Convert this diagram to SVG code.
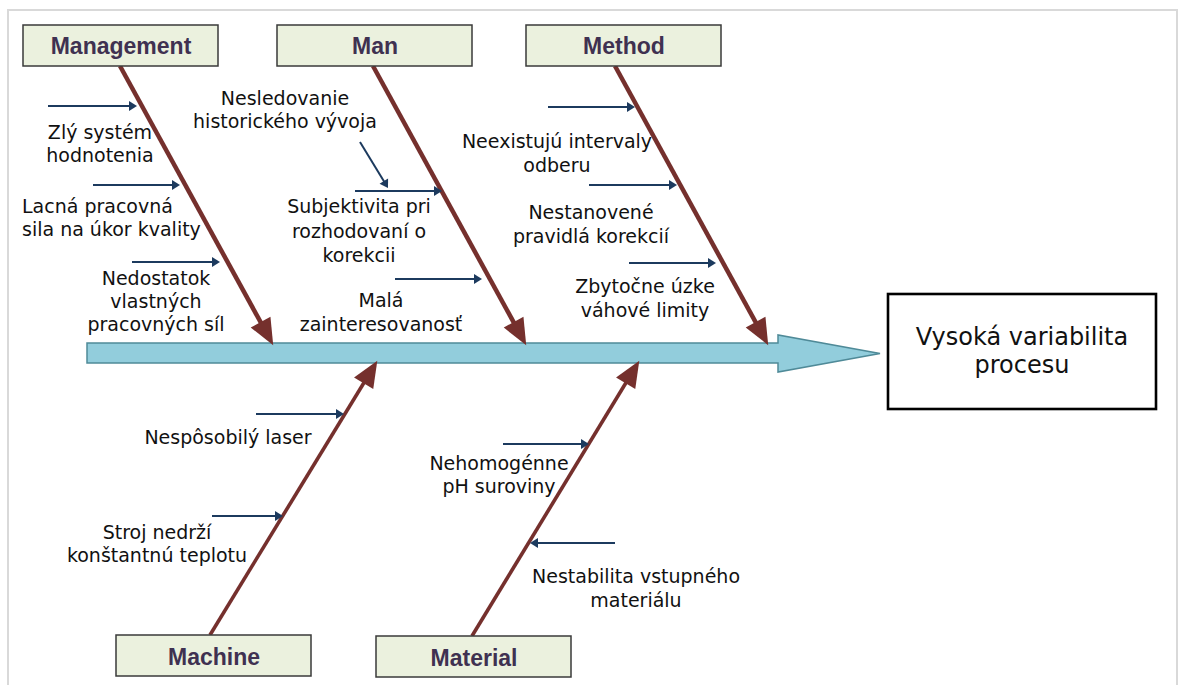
<svg xmlns="http://www.w3.org/2000/svg" width="1179" height="685" viewBox="0 0 1179 685">
  <defs>
    <style>
      .frame { fill: none; stroke: #d9d9d9; stroke-width: 2; }
      .cat rect { fill: #ebf1de; stroke: #3a3a3a; stroke-width: 1.5; }
      .cat text { font-family: "Liberation Sans", Arial, sans-serif; font-weight: bold; font-size: 23px; fill: #3f3151; text-anchor: middle; }
      .bone { stroke: #75302d; fill: none; marker-end: url(#bigHead); }
      .up { stroke-width: 4.5; }
      .down { stroke-width: 3.6; }
      .cause { stroke: #1c3a5e; stroke-width: 2; fill: none; marker-end: url(#smallHead); }
      .lbl { font-family: "DejaVu Sans", Verdana, sans-serif; font-size: 19px; fill: #111; text-anchor: middle; }
      .lbl-left { text-anchor: start; }
      .effect rect { fill: #fff; stroke: #000; stroke-width: 2.6; }
      .effect text { font-family: "DejaVu Sans", Verdana, sans-serif; font-size: 24px; fill: #111; text-anchor: middle; }
    </style>
    <marker id="bigHead" markerUnits="userSpaceOnUse" markerWidth="30" markerHeight="30" viewBox="-12 -12 24 24" refX="0" refY="0" orient="auto" overflow="visible">
      <path d="M-11,-9 L10,0 L-11,9 Z" fill="#75302d"/>
    </marker>
    <marker id="smallHead" markerUnits="userSpaceOnUse" markerWidth="12" markerHeight="12" viewBox="-6 -6 12 12" refX="0" refY="0" orient="auto" overflow="visible">
      <path d="M-4,-5 L4,0 L-4,5 Z" fill="#1c3a5e"/>
    </marker>
  </defs>

  <rect width="1179" height="685" fill="#ffffff"/>
  <rect class="frame" x="8" y="10" width="1169" height="700"/>

  <!-- main spine arrow -->
  <g id="spine">
    <polygon points="87,343 778,343 778,335 880,353.5 778,372 778,363 87,363" fill="#92cddc" stroke="#4f8a98" stroke-width="1.5"/>
  </g>

  <!-- bones and cause arrows -->
  <g id="connectors">
    <line class="bone up" x1="120" y1="66" x2="267.2" y2="334.2"/>
    <line class="bone up" x1="373" y1="66" x2="520.2" y2="334.2"/>
    <line class="bone up" x1="615" y1="66" x2="762.2" y2="334.2"/>
    <line class="bone down" x1="210" y1="635" x2="370.8" y2="371.5"/>
    <line class="bone down" x1="472" y1="636" x2="632.8" y2="371.5"/>

    <line class="cause" x1="48" y1="106" x2="133" y2="106"/>
    <line class="cause" x1="93" y1="185" x2="176" y2="185"/>
    <line class="cause" x1="132" y1="262" x2="216" y2="262"/>

    <line class="cause" x1="360" y1="142" x2="385.9" y2="184.6"/>
    <line class="cause" x1="355" y1="191" x2="438" y2="191"/>
    <line class="cause" x1="395" y1="279" x2="478" y2="279"/>

    <line class="cause" x1="548" y1="107" x2="631" y2="107"/>
    <line class="cause" x1="589" y1="185" x2="673" y2="185"/>
    <line class="cause" x1="629" y1="263" x2="712" y2="263"/>

    <line class="cause" x1="256" y1="414" x2="340" y2="414"/>
    <line class="cause" x1="212" y1="516" x2="279" y2="516"/>

    <line class="cause" x1="503" y1="444" x2="585" y2="444"/>
    <line class="cause" x1="615" y1="543" x2="534" y2="543"/>
  </g>

  <!-- category headers -->
  <g id="management" class="cat">
    <rect x="23" y="25" width="195" height="41"/>
    <text x="121" y="54">Management</text>
  </g>
  <g id="man" class="cat">
    <rect x="277" y="25" width="195" height="41"/>
    <text x="375" y="54">Man</text>
  </g>
  <g id="method" class="cat">
    <rect x="526" y="25" width="195" height="41"/>
    <text x="624" y="54">Method</text>
  </g>
  <g id="machine" class="cat">
    <rect x="116" y="635" width="195" height="41"/>
    <text x="214" y="665">Machine</text>
  </g>
  <g id="material" class="cat">
    <rect x="376" y="636" width="195" height="41"/>
    <text x="474" y="666">Material</text>
  </g>

  <!-- effect -->
  <g id="effect" class="effect">
    <rect x="888" y="294" width="268" height="115"/>
    <text x="1022" y="345">Vysoká variabilita</text>
    <text x="1022" y="373">procesu</text>
  </g>

  <!-- cause labels -->
  <g id="cause-zly-system">
    <text class="lbl" x="100" y="139">Zlý systém</text>
    <text class="lbl" x="100" y="162">hodnotenia</text>
  </g>
  <g id="cause-lacna-sila">
    <text class="lbl lbl-left" x="22" y="213">Lacná pracovná</text>
    <text class="lbl lbl-left" x="22" y="236">sila na úkor kvality</text>
  </g>
  <g id="cause-nedostatok">
    <text class="lbl" x="156" y="285">Nedostatok</text>
    <text class="lbl" x="156" y="308">vlastných</text>
    <text class="lbl" x="156" y="331">pracovných síl</text>
  </g>
  <g id="cause-nesledovanie">
    <text class="lbl" x="285" y="105">Nesledovanie</text>
    <text class="lbl" x="285" y="128">historického vývoja</text>
  </g>
  <g id="cause-subjektivita">
    <text class="lbl" x="359" y="213">Subjektivita pri</text>
    <text class="lbl" x="359" y="238">rozhodovaní o</text>
    <text class="lbl" x="359" y="262">korekcii</text>
  </g>
  <g id="cause-mala">
    <text class="lbl" x="381" y="307">Malá</text>
    <text class="lbl" x="381" y="331">zainteresovanosť</text>
  </g>
  <g id="cause-intervaly">
    <text class="lbl" x="557" y="148">Neexistujú intervaly</text>
    <text class="lbl" x="557" y="172">odberu</text>
  </g>
  <g id="cause-nestanovene">
    <text class="lbl" x="591" y="219">Nestanovené</text>
    <text class="lbl" x="591" y="243">pravidlá korekcií</text>
  </g>
  <g id="cause-limity">
    <text class="lbl" x="645" y="293">Zbytočne úzke</text>
    <text class="lbl" x="645" y="317">váhové limity</text>
  </g>
  <g id="cause-laser">
    <text class="lbl" x="228" y="444">Nespôsobilý laser</text>
  </g>
  <g id="cause-stroj">
    <text class="lbl" x="157" y="539">Stroj nedrží</text>
    <text class="lbl" x="157" y="562">konštantnú teplotu</text>
  </g>
  <g id="cause-ph">
    <text class="lbl" x="499" y="470">Nehomogénne</text>
    <text class="lbl" x="499" y="493">pH suroviny</text>
  </g>
  <g id="cause-nestabilita">
    <text class="lbl" x="636" y="583">Nestabilita vstupného</text>
    <text class="lbl" x="636" y="607">materiálu</text>
  </g>
</svg>
